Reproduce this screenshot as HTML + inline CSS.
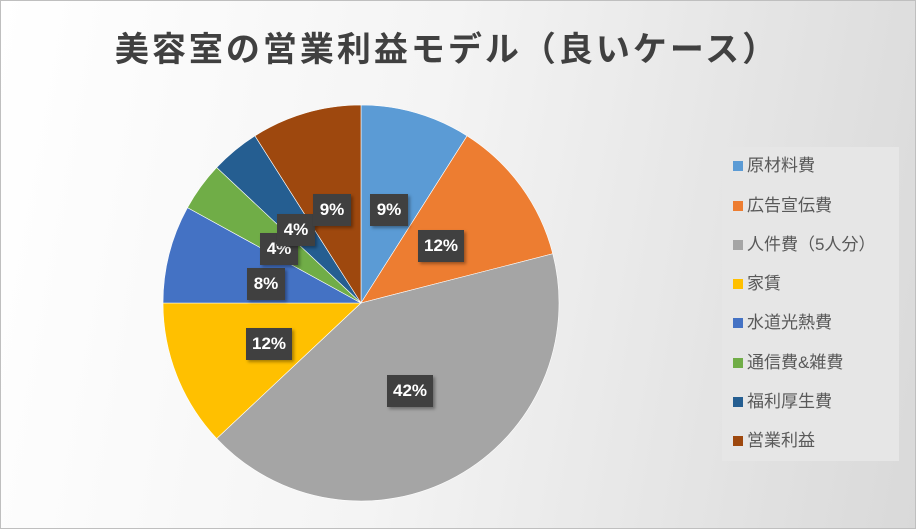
<!DOCTYPE html>
<html><head><meta charset="utf-8"><style>
body{margin:0;width:916px;height:529px;overflow:hidden;font-family:"Liberation Sans","Noto Sans CJK JP",sans-serif}
#c{position:absolute;left:0;top:0;width:914px;height:527px;border:1px solid #bfbfbf;background:linear-gradient(100deg,#ffffff 0%,#f4f4f4 45%,#d9d9d9 100%)}
.t{position:absolute;left:0;width:892px;top:21px;text-align:center;font-size:34px;font-weight:bold;color:#404040;letter-spacing:3px}
.lg{position:absolute;left:721px;top:146px;width:177px;height:314px;background:#e6e6e6}
.li{position:absolute;left:732px;font-size:17px;color:#595959;line-height:20px}
.li i{display:inline-block;width:10px;height:10px;margin-right:4px;vertical-align:0px}
.lb{position:absolute;height:32px;line-height:32px;background:#404040;color:#fff;font-weight:bold;font-size:17px;text-align:center;box-shadow:2px 2px 3px rgba(0,0,0,.35)}
</style></head><body><div id="c">
<div class="t">美容室の営業利益モデル（良いケース）</div>
<svg id="s" width="916" height="529" style="position:absolute;left:0;top:0"></svg>
<div class="lg"></div>
<div class="li" style="top:155px"><i style="background:#5b9bd5"></i>原材料費</div>
<div class="li" style="top:195px"><i style="background:#ed7d31"></i>広告宣伝費</div>
<div class="li" style="top:234px"><i style="background:#a5a5a5"></i>人件費（5人分）</div>
<div class="li" style="top:273px"><i style="background:#ffc000"></i>家賃</div>
<div class="li" style="top:312px"><i style="background:#4472c4"></i>水道光熱費</div>
<div class="li" style="top:352px"><i style="background:#70ad47"></i>通信費&amp;雑費</div>
<div class="li" style="top:391px"><i style="background:#255e91"></i>福利厚生費</div>
<div class="li" style="top:430px"><i style="background:#9e480e"></i>営業利益</div>
<div class="lb" style="left:369px;top:193px;width:38px">9%</div>
<div class="lb" style="left:417px;top:229px;width:46px">12%</div>
<div class="lb" style="left:386px;top:374px;width:46px">42%</div>
<div class="lb" style="left:245px;top:327px;width:46px">12%</div>
<div class="lb" style="left:246px;top:267px;width:38px">8%</div>
<div class="lb" style="left:259px;top:232px;width:38px">4%</div>
<div class="lb" style="left:276px;top:213px;width:38px">4%</div>
<div class="lb" style="left:312px;top:193px;width:38px">9%</div>
</div>
<script>
var v=[9,12,42,12,8,4,4,9],col=["#5b9bd5","#ed7d31","#a5a5a5","#ffc000","#4472c4","#70ad47","#255e91","#9e480e"];
var cx=360,cy=302,r=198,a=0,h="";
for(var i=0;i<v.length;i++){var b=a+v[i]/100*2*Math.PI;
var x1=cx+r*Math.sin(a),y1=cy-r*Math.cos(a),x2=cx+r*Math.sin(b),y2=cy-r*Math.cos(b);
h+='<path d="M'+cx+','+cy+'L'+x1+','+y1+'A'+r+','+r+' 0 '+((b-a)>Math.PI?1:0)+' 1 '+x2+','+y2+'Z" fill="'+col[i]+'" stroke="#fff" stroke-width="0.6"/>';a=b;}
document.getElementById("s").innerHTML=h;
</script>
</body></html>
